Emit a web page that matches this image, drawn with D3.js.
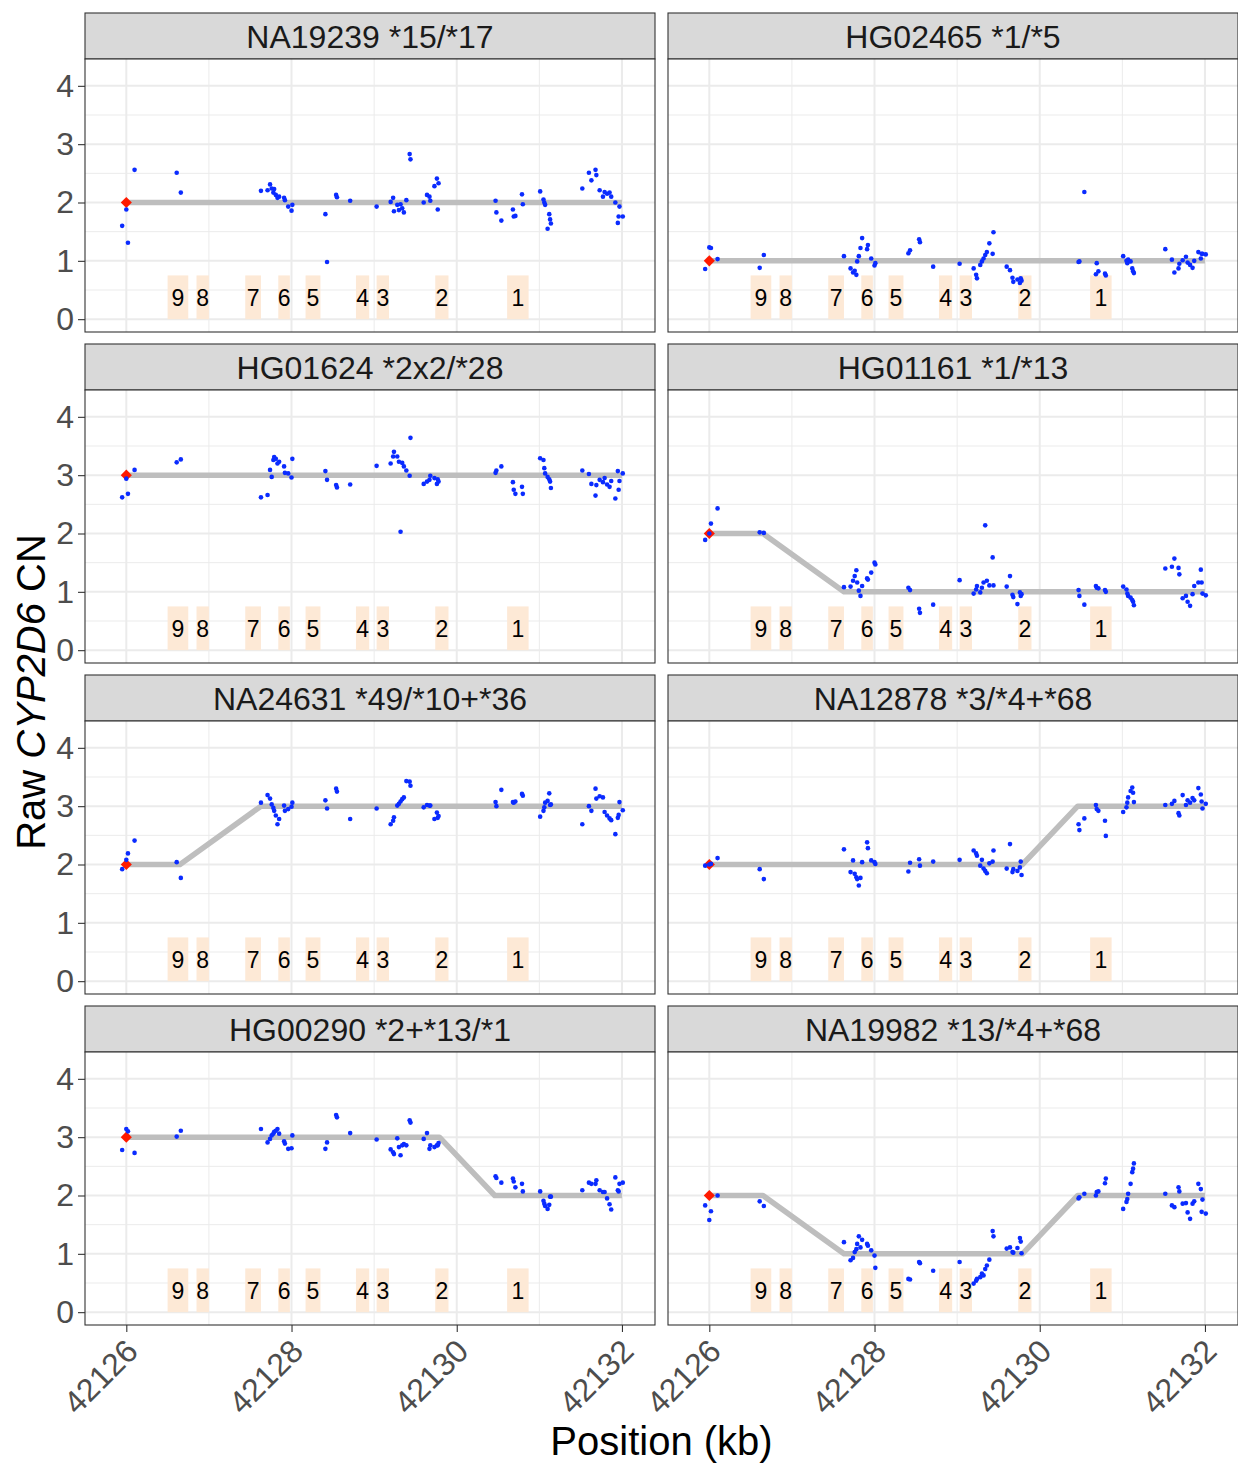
<!DOCTYPE html>
<html>
<head>
<meta charset="utf-8">
<script src="https://cdn.jsdelivr.net/npm/d3@7"></script>
<style>
body { margin: 0; background: #fff; }
svg text { font-family: "Liberation Sans", Arial, Helvetica, sans-serif; }
</style>
</head>
<body>
<svg id="chart" width="1238" height="1464"></svg>
<script>
// probe positions (kb), shared by every sample
var positions = [
 42125.95, 42126.00, 42126.02, 42126.10, 42126.61, 42126.66,
 42127.63, 42127.71, 42127.74, 42127.76, 42127.78, 42127.79, 42127.81, 42127.83, 42127.85, 42127.91, 42127.92, 42127.96, 42128.00, 42128.01,
 42128.41, 42128.43, 42128.54, 42128.55, 42128.71,
 42129.03, 42129.20, 42129.23, 42129.24, 42129.28, 42129.30, 42129.32, 42129.34, 42129.36, 42129.39, 42129.43, 42129.44,
 42129.60, 42129.64, 42129.67, 42129.68, 42129.73, 42129.76, 42129.77, 42129.78,
 42130.47, 42130.48, 42130.54, 42130.68, 42130.69, 42130.71, 42130.79, 42130.80,
 42131.01, 42131.05, 42131.06, 42131.07, 42131.10, 42131.12, 42131.13, 42131.14,
 42131.52, 42131.60, 42131.63, 42131.68, 42131.69,
 42131.73, 42131.77, 42131.79, 42131.82, 42131.85, 42131.87, 42131.92, 42131.95, 42131.96, 42131.97, 42132.01
];

var sampleNames = ["NA19239 *15/*17", "HG02465 *1/*5", "HG01624 *2x2/*28", "HG01161 *1/*13",
                   "NA24631 *49/*10+*36", "NA12878 *3/*4+*68", "HG00290 *2+*13/*1", "NA19982 *13/*4+*68"];

// raw copy number per probe
var cnNA19239 = [1.60,1.88,1.31,2.56,2.51,2.17, 2.20,2.21,2.31,2.24,2.17,2.23,2.13,2.08,2.10,2.08,2.04,1.93,1.86,1.96,
 1.80,0.98,2.13,2.09,2.03, 1.93,2.01,2.08,1.85,1.96,1.87,1.97,1.90,1.83,2.04,2.83,2.74,
 2.00,2.13,2.10,2.03,2.28,2.41,1.88,2.33, 2.03,1.83,1.69,1.88,1.76,1.77,2.14,1.97,
 2.19,2.05,2.00,1.96,1.55,1.80,1.71,1.64, 2.24,2.51,2.38,2.56,2.47, 2.21,2.10,2.18,2.15,2.17,2.10,2.00,1.65,1.76,1.93,1.76];
var cnHG02465 = [0.86,1.23,1.22,1.03,0.88,1.10, 1.08,0.87,0.80,0.83,0.76,0.99,1.08,1.22,1.39,1.20,1.27,1.04,0.92,0.96,
 1.13,1.18,1.37,1.32,0.90, 0.95,0.87,0.76,0.70,0.93,0.99,1.04,1.10,1.15,1.30,1.12,1.49,
 0.90,0.84,0.71,0.64,0.68,0.62,0.70,0.66, 0.98,0.99,2.18,0.77,0.96,0.82,0.78,0.75,
 1.08,1.00,0.96,1.02,0.99,0.87,0.82,0.79, 1.20,1.02,0.80,0.87,0.95, 1.01,1.07,0.97,0.93,0.88,1.00,1.15,1.04,1.12,1.12,1.11];
var cnHG01624 = [2.62,2.94,2.68,3.09,3.22,3.27, 2.62,2.66,3.09,2.97,3.26,3.31,3.28,3.20,3.23,3.15,3.04,3.03,2.96,3.28,
 3.07,2.92,2.83,2.79,2.84, 3.16,3.20,3.32,3.40,3.32,3.23,2.03,3.21,3.15,3.08,2.99,3.64,
 2.85,2.89,2.92,2.99,2.95,2.85,2.93,2.89, 3.04,3.08,3.15,2.88,2.75,2.68,2.80,2.68,
 3.29,3.26,3.12,3.03,2.97,2.93,2.89,2.78, 3.08,3.02,2.85,2.65,2.83, 2.92,2.88,2.95,2.84,2.80,2.90,2.60,3.07,2.75,2.90,3.03];
var cnHG01161 = [1.89,2.00,2.17,2.43,2.02,2.01, 1.08,1.09,1.19,1.27,1.37,1.16,1.02,0.93,1.10,1.23,1.21,1.33,1.50,1.47,
 1.07,1.03,0.71,0.64,0.78, 1.20,0.97,1.04,1.10,0.99,1.07,1.16,2.14,1.19,1.11,1.59,1.11,
 1.09,1.27,0.95,0.91,0.79,0.99,0.93,0.96, 1.03,0.93,0.78,1.10,1.07,1.06,1.03,1.00,
 1.09,1.04,0.97,0.93,0.90,0.86,0.83,0.77, 1.40,1.43,1.57,1.41,1.30, 0.89,0.93,0.83,0.76,0.96,1.10,1.16,1.38,1.16,0.97,0.94];
var cnNA24631 = [1.92,2.08,2.19,2.41,2.04,1.77, 3.06,3.19,3.13,3.03,2.97,2.92,2.84,2.69,2.78,3.01,2.92,2.95,2.99,3.06,
 3.10,2.96,3.30,3.25,2.78, 2.96,2.69,2.75,2.81,3.01,3.04,3.08,3.12,3.15,3.43,3.42,3.35,
 2.98,3.02,3.01,3.01,2.78,2.89,2.80,2.83, 3.07,3.00,3.28,3.07,3.06,3.08,3.21,3.18,
 2.82,2.92,2.98,3.06,3.09,3.22,3.02,3.03, 2.69,3.00,2.92,3.30,3.13, 3.17,3.15,2.90,2.84,2.79,2.76,2.52,2.80,2.85,3.07,2.93];
var cnNA12878 = [1.98,2.00,2.01,2.11,1.92,1.75, 2.26,1.87,2.07,1.84,1.78,1.75,1.64,1.77,2.04,2.38,2.28,2.07,2.04,2.01,
 1.88,2.03,2.09,1.98,2.05, 2.08,2.24,2.19,2.15,1.98,2.08,1.93,1.89,1.85,2.02,2.05,2.24,
 1.93,2.35,1.87,1.92,1.89,1.95,2.05,1.82, 2.69,2.59,2.79,3.02,2.95,2.92,2.75,2.49,
 2.90,2.98,3.06,3.15,3.26,3.32,3.23,3.07, 3.02,3.04,3.09,2.88,2.84, 3.19,3.02,3.10,3.06,3.14,3.10,3.31,3.20,3.08,2.96,3.04];
var cnHG00290 = [2.78,3.14,3.10,2.73,3.01,3.11, 3.14,2.91,2.97,3.03,3.06,3.09,3.11,3.14,3.06,2.93,2.89,2.80,2.81,3.03,
 2.80,2.91,3.38,3.34,3.07, 2.96,2.79,2.74,2.71,2.98,2.83,2.69,2.86,2.88,2.86,3.29,3.25,
 2.97,3.07,2.80,2.86,2.83,2.86,2.86,2.90, 2.33,2.30,2.22,2.29,2.24,2.14,2.20,2.07,
 2.07,1.91,1.86,1.82,1.77,1.84,1.98,1.98, 2.09,2.22,2.20,2.20,2.26, 2.09,2.06,2.06,1.95,1.85,1.76,2.31,2.09,2.07,2.20,2.22];
var cnNA19982 = [1.83,1.58,1.73,2.00,1.90,1.82, 1.20,0.89,0.93,1.03,1.08,1.17,1.30,1.11,1.24,1.17,1.14,1.06,0.97,0.76,
 0.57,0.56,0.86,0.84,0.71, 0.86,0.49,0.54,0.57,0.60,0.66,0.63,0.74,0.80,0.90,1.39,1.30,
 1.09,1.11,1.03,1.02,1.10,1.27,1.21,1.01, 1.95,1.97,2.03,2.00,2.06,2.07,2.21,2.29,
 1.77,1.89,1.94,2.03,2.20,2.40,2.46,2.55, 2.03,1.83,1.80,2.14,2.07, 1.86,1.87,1.71,1.60,1.86,1.90,2.20,2.11,1.72,1.93,1.69];

// called copy number segments (kb, CN)
var segX1 = [42126, 42132];
var segX2 = [42126, 42126.65, 42127.63, 42132];
var segX3 = [42126, 42129.79, 42130.46, 42132];
var segX4 = [42126, 42126.65, 42127.63, 42129.79, 42130.46, 42132];
var segNA19239 = [2, 2], segHG02465 = [1, 1], segHG01624 = [3, 3];
var segHG01161 = [2, 2, 1, 1], segNA24631 = [2, 2, 3, 3];
var segNA12878 = [2, 2, 3, 3], segHG00290 = [3, 3, 2, 2];
var segNA19982 = [2, 2, 1, 1, 2, 2];

// exons
var exonLabels = ["9","8","7","6","5","4","3","2","1"];
var exonStart = [42126.50, 42126.85, 42127.44, 42127.84, 42128.17, 42128.78, 42129.03, 42129.74, 42130.61];
var exonEnd   = [42126.75, 42127.00, 42127.63, 42127.98, 42128.35, 42128.94, 42129.18, 42129.90, 42130.87];

var xTicks = [42126, 42128, 42130, 42132];
var xMinor = [42127, 42129, 42131];
var yTicks = [0, 1, 2, 3, 4];
var yMinor = [0.5, 1.5, 2.5, 3.5];

var panels = [
  {name: sampleNames[0], cn: cnNA19239, sx: segX1, sy: segNA19239},
  {name: sampleNames[1], cn: cnHG02465, sx: segX1, sy: segHG02465},
  {name: sampleNames[2], cn: cnHG01624, sx: segX1, sy: segHG01624},
  {name: sampleNames[3], cn: cnHG01161, sx: segX2, sy: segHG01161},
  {name: sampleNames[4], cn: cnNA24631, sx: segX2, sy: segNA24631},
  {name: sampleNames[5], cn: cnNA12878, sx: segX3, sy: segNA12878},
  {name: sampleNames[6], cn: cnHG00290, sx: segX3, sy: segHG00290},
  {name: sampleNames[7], cn: cnNA19982, sx: segX4, sy: segNA19982}
];

var svg = d3.select("#chart");
var panelW = 570, stripH = 46, plotH = 273, rowStep = 331, top0 = 13;
var colX = [85, 668];
var fontFam = "'Liberation Sans', Arial, Helvetica, sans-serif";

var x = d3.scaleLinear().domain([42125.5, 42132.4]).range([0, panelW]);
var y = d3.scaleLinear().domain([-0.22, 4.46]).range([plotH, 0]);

var line = d3.line()
  .x(function(d) { return x(d[0]); })
  .y(function(d) { return y(d[1]); });

panels.forEach(function(p, i) {
  var col = i % 2, row = Math.floor(i / 2);
  var g = svg.append("g")
    .attr("transform", "translate(" + colX[col] + "," + (top0 + row * rowStep) + ")");

  // strip
  g.append("rect")
    .attr("x", 0).attr("y", 0)
    .attr("width", panelW).attr("height", stripH)
    .attr("fill", "#d9d9d9")
    .attr("stroke", "#333").attr("stroke-width", 1.1);
  g.append("text")
    .attr("x", panelW / 2).attr("y", stripH / 2)
    .attr("dy", "0.36em")
    .attr("text-anchor", "middle")
    .attr("fill", "#1a1a1a")
    .style("font-size", "32px")
    .text(p.name);

  var pg = g.append("g").attr("transform", "translate(0," + stripH + ")");

  pg.append("rect")
    .attr("width", panelW).attr("height", plotH)
    .attr("fill", "#fff");

  // grid
  pg.selectAll(".gxm").data(xMinor).enter().append("line")
    .attr("x1", function(d) { return x(d); }).attr("x2", function(d) { return x(d); })
    .attr("y1", 0).attr("y2", plotH)
    .attr("stroke", "#ebebeb").attr("stroke-width", 1);
  pg.selectAll(".gym").data(yMinor).enter().append("line")
    .attr("x1", 0).attr("x2", panelW)
    .attr("y1", function(d) { return y(d); }).attr("y2", function(d) { return y(d); })
    .attr("stroke", "#ebebeb").attr("stroke-width", 1);
  pg.selectAll(".gx").data(xTicks).enter().append("line")
    .attr("x1", function(d) { return x(d); }).attr("x2", function(d) { return x(d); })
    .attr("y1", 0).attr("y2", plotH)
    .attr("stroke", "#ebebeb").attr("stroke-width", 2);
  pg.selectAll(".gy").data(yTicks).enter().append("line")
    .attr("x1", 0).attr("x2", panelW)
    .attr("y1", function(d) { return y(d); }).attr("y2", function(d) { return y(d); })
    .attr("stroke", "#ebebeb").attr("stroke-width", 2);

  // exon boxes + numbers
  pg.selectAll(".exon").data(exonLabels).enter().append("rect")
    .attr("x", function(d, k) { return x(exonStart[k]); })
    .attr("width", function(d, k) { return x(exonEnd[k]) - x(exonStart[k]); })
    .attr("y", y(0.75))
    .attr("height", y(0) - y(0.75))
    .attr("fill", "#fde9d6");
  pg.selectAll(".exlab").data(exonLabels).enter().append("text")
    .attr("x", function(d, k) { return x((exonStart[k] + exonEnd[k]) / 2); })
    .attr("y", y(0.375))
    .attr("dy", "0.36em")
    .attr("text-anchor", "middle")
    .attr("fill", "#000")
    .style("font-size", "23px")
    .text(function(d) { return d; });

  // segment line
  var seg = p.sx.map(function(v, k) { return [v, p.sy[k]]; });
  pg.append("path")
    .attr("d", line(seg))
    .attr("fill", "none")
    .attr("stroke", "#bebebe")
    .attr("stroke-width", 5.5)
    .attr("stroke-linejoin", "round");

  // start marker
  pg.append("path")
    .attr("d", d3.symbol(d3.symbolSquare, 62)())
    .attr("transform", "translate(" + x(p.sx[0]) + "," + y(p.sy[0]) + ") rotate(45)")
    .attr("fill", "#ff1a00");

  // raw points
  pg.selectAll(".pt").data(p.cn).enter().append("circle")
    .attr("cx", function(d, k) { return x(positions[k]); })
    .attr("cy", function(d) { return y(d); })
    .attr("r", 2.3)
    .attr("fill", "#0a2bff");

  pg.append("rect")
    .attr("width", panelW).attr("height", plotH)
    .attr("fill", "none")
    .attr("stroke", "#333").attr("stroke-width", 1.1);

  // y axis on the left column
  if (col == 0) {
    var ya = pg.append("g")
      .call(d3.axisLeft(y).tickValues(yTicks).tickSize(7).tickPadding(4).tickFormat(d3.format("d")));
    ya.select(".domain").remove();
    ya.selectAll("line").attr("stroke", "#333").attr("stroke-width", 1.1);
    ya.selectAll("text").attr("fill", "#4d4d4d")
      .style("font-size", "32px")
      .style("font-family", fontFam);
  }

  // x axis on the bottom row
  if (row == 3) {
    var xa = pg.append("g")
      .attr("transform", "translate(0," + plotH + ")")
      .call(d3.axisBottom(x).tickValues(xTicks).tickSize(7).tickFormat(d3.format("d")));
    xa.select(".domain").remove();
    xa.selectAll("line").attr("stroke", "#333").attr("stroke-width", 1.1);
    xa.selectAll("text")
      .attr("x", 0).attr("y", 0)
      .attr("dy", "0.71em")
      .attr("transform", "translate(-3,12) rotate(-45)")
      .style("text-anchor", "end")
      .attr("fill", "#4d4d4d")
      .style("font-size", "32px")
      .style("font-family", fontFam);
  }
});

// axis titles
svg.append("text")
  .attr("x", 661.5).attr("y", 1455)
  .attr("text-anchor", "middle")
  .attr("fill", "#000")
  .style("font-size", "40px")
  .text("Position (kb)");

var yt = svg.append("text")
  .attr("transform", "translate(45,692) rotate(-90)")
  .attr("text-anchor", "middle")
  .attr("fill", "#000")
  .style("font-size", "40px");
yt.append("tspan").text("Raw ");
yt.append("tspan").style("font-style", "italic").text("CYP2D6");
yt.append("tspan").text(" CN");
</script>
</body>
</html>
